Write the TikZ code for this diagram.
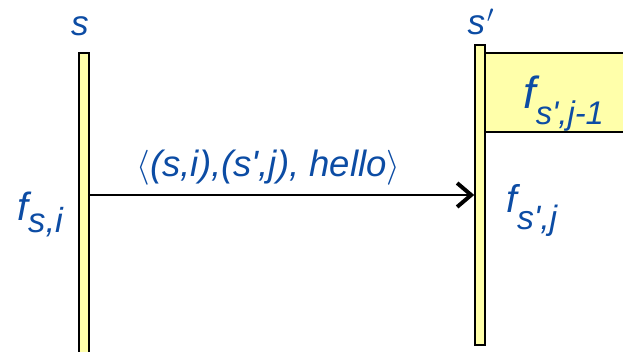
\documentclass[tikz,border=0pt]{standalone}
\usepackage{fontspec}
\setmainfont{Liberation Sans}
\usetikzlibrary{arrows.meta,positioning}
\definecolor{txtblue}{RGB}{12,76,164}
\definecolor{barfill}{RGB}{255,255,170}
% lowered subscript: #1 drop (pt), #2 size (pt), #3 text
\newcommand{\lowsub}[3]{\raisebox{-#1pt}{\fontsize{#2}{#2}\selectfont #3}}

\begin{document}
\begin{tikzpicture}[x=0.025cm, y=-0.025cm,
  bar/.style={draw, line width=1.1pt, fill=barfill, minimum width=0.25cm, inner sep=0pt},
  frm/.style={draw, line width=1.1pt, fill=barfill, inner sep=0pt},
  proc/.style={text=txtblue, font=\fontsize{25}{25}\selectfont\itshape, inner sep=0pt},
  fn/.style={text=txtblue, font=\fontsize{#1}{#1}\selectfont\itshape, inner sep=0pt, anchor=base west},
  lbl/.style={text=txtblue, font=\fontsize{26}{26}\selectfont\itshape, inner sep=0pt, anchor=base}
]
\clip (0,0) rectangle (623,352);
\node[bar, minimum height=7.675cm] (sbar) at (84,206.5) {};
\node[bar, minimum height=7.5cm] (spbar) at (480,195) {};
\node[frm, minimum width=3.875cm, minimum height=1.975cm] (fprev) at (562.5,92.5) {};
\node[proc, anchor=base] (s) at (80,36) {s};
\node[proc, anchor=base] (sp) at (481,35) {s\kern0.05em$'$};
\node[fn=28] (fsi) at (17,221) {f\lowsub{8}{24.7}{s,i}};
\node[fn=27.5] (fspj) at (506,213) {f\lowsub{12}{24}{s\textquotesingle,j}};
\node[fn=32] (fspjm) at (523,109) {f\lowsub{10.7}{23.3}{s\textquotesingle,j-1}};

\draw[line width=1.6pt, -{Straight Barb[length=10pt, width=17pt, line width=2.8pt]}] (sbar.east |- spbar) -- (spbar.west)
  coordinate[pos=0.465] (mid);
\node[lbl] (msg) at ([yshift=13pt]mid) {$\langle$(s,i),(s\textquotesingle,j), hello$\rangle$};
\end{tikzpicture}
\end{document}
